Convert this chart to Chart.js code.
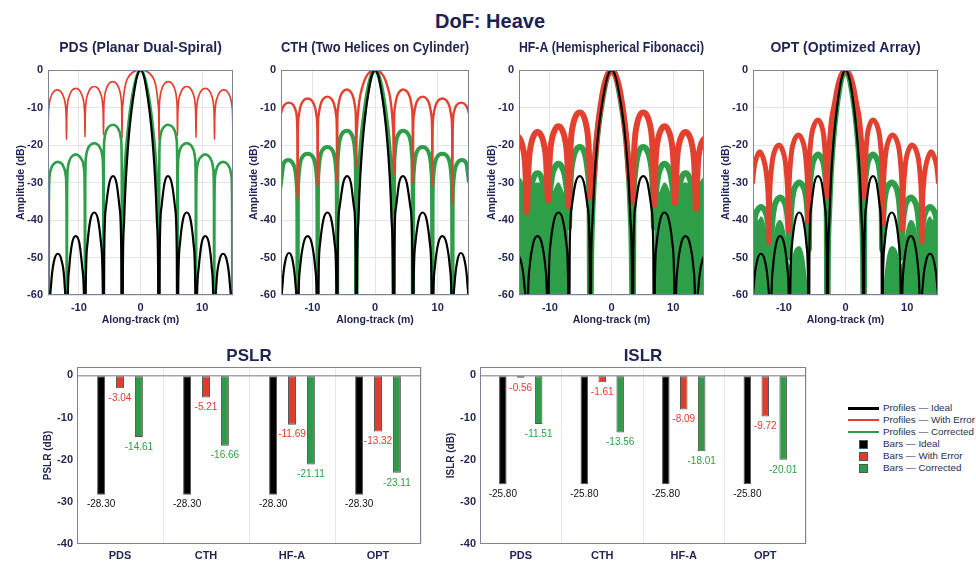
<!DOCTYPE html>
<html><head><meta charset="utf-8">
<script src="https://cdn.jsdelivr.net/npm/chart.js@4.4.1/dist/chart.umd.min.js"></script>
<style>
html,body{margin:0;padding:0;background:#fff}
body{width:976px;height:566px;overflow:hidden;position:relative;font-family:"Liberation Sans",Arial,Helvetica,sans-serif}
canvas{position:absolute}
#mainTitle{position:absolute;left:390px;top:11px;width:200px;text-align:center;font-weight:bold;font-size:20px;line-height:20px;color:#1c2150}
.row{position:absolute;left:848px;height:12px;width:140px;z-index:5}
.ln{position:absolute;left:0;width:31px}
.sq{position:absolute;left:11px;top:2px;width:7px;height:7px;border:1px solid #555}
.tx{position:absolute;left:35px;top:0;line-height:12px;font-size:9.8px;color:#2a2e55;white-space:nowrap}
</style></head>
<body>
<div id="mainTitle">DoF: Heave</div>
<canvas id="p0" width="239" height="300" style="left:0px;top:30px"></canvas>
<canvas id="p1" width="242" height="300" style="left:233px;top:30px"></canvas>
<canvas id="p2" width="239" height="300" style="left:471px;top:30px"></canvas>
<canvas id="p3" width="239" height="300" style="left:705px;top:30px"></canvas>
<canvas id="b0" width="407" height="231" style="left:20px;top:335px"></canvas>
<canvas id="b1" width="389" height="231" style="left:423px;top:335px"></canvas>
<div id="legend"></div>
<script>
// ---------- categories, ticks, labels ----------
const ARRAYS = ['PDS', 'CTH', 'HF-A', 'OPT'];
const PANEL_TITLES = ['PDS (Planar Dual-Spiral)', 'CTH (Two Helices on Cylinder)', 'HF-A (Hemispherical Fibonacci)', 'OPT (Optimized Array)'];
const X_TICKS = [-10, 0, 10];
const Y_TICKS = [-60, -50, -40, -30, -20, -10, 0];
const BAR_TICKS = [-40, -30, -20, -10, 0];
const LEGEND_LABELS = ['Profiles \u2014 Ideal', 'Profiles \u2014 With Error', 'Profiles \u2014 Corrected', 'Bars \u2014 Ideal', 'Bars \u2014 With Error', 'Bars \u2014 Corrected'];

// ---------- bar values ----------
const PSLR_IDEAL = [-28.30, -28.30, -28.30, -28.30];
const PSLR_ERROR = [-3.04, -5.21, -11.69, -13.32];
const PSLR_CORR = [-14.61, -16.66, -21.11, -23.11];
const ISLR_IDEAL = [-25.80, -25.80, -25.80, -25.80];
const ISLR_ERROR = [-0.56, -1.61, -8.09, -9.72];
const ISLR_CORR = [-11.51, -13.56, -18.01, -20.01];

// ---------- profile series [along-track m, dB] ----------
const PDS_IDEAL = [[-15.0,-70],[-14.9,-95],
[-14.78,-69],[-14.5,-57.3],[-14.0,-50.8],[-13.4,-49],[-12.8,-50.8],[-12.3,-57.3],[-12.07,-69],[-11.95,-95],
[-11.83,-64.3],[-11.55,-52.6],[-11.08,-46.1],[-10.5,-44.3],[-9.92,-46.1],[-9.45,-52.6],[-9.12,-64.3],[-9.0,-95],
[-8.88,-58],[-8.6,-46.3],[-8.1,-39.8],[-7.5,-38],[-6.9,-39.8],[-6.4,-46.3],[-6.12,-58],[-6.0,-95],
[-5.88,-48.3],[-5.6,-36.6],[-5.05,-30.1],[-4.45,-28.3],[-3.9,-30.1],[-3.4,-36.6],[-3.12,-48.3],[-3.0,-95],
[-2.85,-52],[-2.65,-40],[-2.4,-30],[-2.1,-22],[-1.8,-16],[-1.4,-10],[-1.0,-5.5],[-0.6,-2],[0,0],
[0.6,-2],[1.0,-5.5],[1.4,-10],[1.8,-16],[2.1,-22],[2.4,-30],[2.65,-40],[2.85,-52],[3.0,-95],
[3.12,-48.3],[3.4,-36.6],[3.9,-30.1],[4.45,-28.3],[5.05,-30.1],[5.6,-36.6],[5.88,-48.3],[6.0,-95],
[6.12,-58],[6.4,-46.3],[6.9,-39.8],[7.5,-38],[8.1,-39.8],[8.6,-46.3],[8.88,-58],[9.0,-95],
[9.12,-64.3],[9.45,-52.6],[9.92,-46.1],[10.5,-44.3],[11.08,-46.1],[11.55,-52.6],[11.83,-64.3],[11.95,-95],
[12.07,-69],[12.3,-57.3],[12.8,-50.8],[13.4,-49],[14.0,-50.8],[14.5,-57.3],[14.78,-69],[14.9,-95],[15.0,-70]];

const PDS_ERROR = [[-15,-20],[-14.96,-13.3],[-14.85,-9.8],[-14.55,-7.3],[-14.1,-5.8],[-13.5,-5.3],[-12.9,-5.8],[-12.45,-7.3],[-12.15,-9.8],[-12.04,-13.3],[-12.0,-18.5],
[-11.96,-12.9],[-11.85,-9.4],[-11.55,-6.9],[-11.1,-5.4],[-10.5,-4.9],[-9.9,-5.4],[-9.45,-6.9],[-9.15,-9.4],[-9.04,-12.9],[-9.0,-17.9],
[-8.96,-12.4],[-8.85,-8.9],[-8.55,-6.4],[-8.1,-4.9],[-7.5,-4.4],[-6.9,-4.9],[-6.45,-6.4],[-6.15,-8.9],[-6.04,-12.4],[-6.0,-17.3],
[-5.96,-11.1],[-5.85,-7.6],[-5.55,-5.1],[-5.1,-3.6],[-4.5,-3.1],[-3.9,-3.6],[-3.45,-5.1],[-3.15,-7.6],[-3.04,-11.1],[-3.0,-18.2],
[-2.96,-12],[-2.85,-9],[-2.7,-6.5],[-2.4,-3.6],[-2.0,-2.0],[-1.4,-0.8],[-0.7,-0.2],[0,0],[0.7,-0.2],[1.4,-0.8],[2.0,-2.0],[2.4,-3.6],[2.7,-6.5],[2.85,-9],[2.96,-12],[3.0,-18.5],
[3.04,-11.1],[3.15,-7.6],[3.45,-5.1],[3.9,-3.6],[4.5,-3.1],[5.1,-3.6],[5.55,-5.1],[5.85,-7.6],[5.96,-11.1],[6.0,-17.5],
[6.04,-12.4],[6.15,-8.9],[6.45,-6.4],[6.9,-4.9],[7.5,-4.4],[8.1,-4.9],[8.55,-6.4],[8.85,-8.9],[8.96,-12.4],[9.0,-18.0],
[9.04,-12.9],[9.15,-9.4],[9.45,-6.9],[9.9,-5.4],[10.5,-4.9],[11.1,-5.4],[11.55,-6.9],[11.85,-9.4],[11.96,-12.9],[12.0,-18.5],
[12.04,-13.3],[12.15,-9.8],[12.45,-7.3],[12.9,-5.8],[13.5,-5.3],[14.1,-5.8],[14.55,-7.3],[14.85,-9.8],[14.96,-13.3],[15.0,-21]];

const PDS_CORR = [[-15.0,-42],[-14.9,-75],
[-14.86,-36.5],[-14.76,-28.5],[-14.5,-26.3],[-14.1,-25.1],[-13.4,-24.5],[-12.7,-25.1],[-12.35,-26.3],[-12.09,-28.5],[-11.99,-36.5],[-11.95,-75],
[-11.91,-34.5],[-11.81,-26.5],[-11.55,-24.3],[-11.15,-23.1],[-10.5,-22.5],[-9.85,-23.1],[-9.4,-24.3],[-9.14,-26.5],[-9.04,-34.5],[-9.0,-75],
[-8.96,-31.5],[-8.86,-23.5],[-8.6,-21.3],[-8.2,-20.1],[-7.5,-19.5],[-6.8,-20.1],[-6.4,-21.3],[-6.14,-23.5],[-6.04,-31.5],[-6.0,-75],
[-5.96,-26.6],[-5.86,-18.6],[-5.6,-16.4],[-5.2,-15.2],[-4.4,-14.6],[-3.8,-15.2],[-3.4,-16.4],[-3.14,-18.6],[-3.04,-26.6],[-3.0,-75],
[-2.92,-48],[-2.8,-36],[-2.6,-27],[-2.3,-20],[-1.9,-13.5],[-1.5,-8.5],[-1.0,-4],[-0.5,-1],[0,0],
[0.5,-1],[1.0,-4],[1.5,-8.5],[1.9,-13.5],[2.3,-20],[2.6,-27],[2.8,-36],[2.92,-48],[3.0,-75],
[3.04,-26.6],[3.14,-18.6],[3.4,-16.4],[3.8,-15.2],[4.4,-14.6],[5.2,-15.2],[5.6,-16.4],[5.86,-18.6],[5.96,-26.6],[6.0,-75],
[6.04,-31.5],[6.14,-23.5],[6.4,-21.3],[6.8,-20.1],[7.5,-19.5],[8.2,-20.1],[8.6,-21.3],[8.86,-23.5],[8.96,-31.5],[9.0,-75],
[9.04,-34.5],[9.14,-26.5],[9.4,-24.3],[9.85,-23.1],[10.5,-22.5],[11.15,-23.1],[11.55,-24.3],[11.81,-26.5],[11.91,-34.5],[11.95,-75],
[11.99,-36.5],[12.09,-28.5],[12.35,-26.3],[12.7,-25.1],[13.4,-24.5],[14.1,-25.1],[14.5,-26.3],[14.76,-28.5],[14.86,-36.5],[14.9,-75],[15.0,-42]];

const CTH_IDEAL = [[-15.2,-75],[-15.1,-95],[-15.0,-68.8],[-14.75,-57.1],[-14.27,-50.6],[-13.72,-48.8],[-13.17,-50.6],[-12.69,-57.1],[-12.44,-68.8],[-12.35,-95],
[-12.24,-64.3],[-11.95,-52.6],[-11.39,-46.1],[-10.75,-44.3],[-10.11,-46.1],[-9.55,-52.6],[-9.26,-64.3],[-9.15,-95],
[-9.04,-58],[-8.76,-46.3],[-8.22,-39.8],[-7.6,-38],[-6.98,-39.8],[-6.44,-46.3],[-6.16,-58],[-6.05,-95],
[-5.95,-48.3],[-5.65,-36.6],[-5.07,-30.1],[-4.45,-28.3],[-3.85,-30.1],[-3.35,-36.6],[-3.08,-48.3],[-3.0,-95],
[-2.85,-52],[-2.65,-40],[-2.4,-30],[-2.1,-22],[-1.8,-16],[-1.4,-10],[-1.0,-5.5],[-0.6,-2],[0,0],
[0.6,-2],[1.0,-5.5],[1.4,-10],[1.8,-16],[2.1,-22],[2.4,-30],[2.65,-40],[2.85,-52],[3.0,-95],
[3.08,-48.3],[3.35,-36.6],[3.85,-30.1],[4.45,-28.3],[5.07,-30.1],[5.65,-36.6],[5.95,-48.3],[6.05,-95],
[6.16,-58],[6.44,-46.3],[6.98,-39.8],[7.6,-38],[8.22,-39.8],[8.76,-46.3],[9.04,-58],[9.15,-95],
[9.26,-64.3],[9.55,-52.6],[10.11,-46.1],[10.75,-44.3],[11.39,-46.1],[11.95,-52.6],[12.24,-64.3],[12.35,-95],
[12.44,-68.8],[12.69,-57.1],[13.17,-50.6],[13.72,-48.8],[14.27,-50.6],[14.75,-57.1],[15.0,-68.8],[15.1,-95],[15.2,-75]];

const CTH_ERROR = [[-15.35,-34],[-15.31,-17.7],[-15.2,-13.7],[-14.9,-10.9],[-14.45,-9.3],[-13.75,-8.7],[-13.05,-9.3],[-12.65,-10.9],[-12.44,-13.7],[-12.39,-17.7],[-12.35,-33.8],
[-12.31,-16.6],[-12.2,-12.6],[-11.9,-9.8],[-11.45,-8.2],[-10.75,-7.6],[-10.05,-8.2],[-9.6,-9.8],[-9.3,-12.6],[-9.19,-16.6],[-9.15,-30.7],
[-9.11,-16.1],[-9.0,-12.1],[-8.7,-9.3],[-8.25,-7.7],[-7.6,-7.1],[-6.95,-7.7],[-6.5,-9.3],[-6.2,-12.1],[-6.09,-16.1],[-6.05,-29.8],
[-6.01,-14.2],[-5.9,-10.2],[-5.6,-7.4],[-5.15,-5.8],[-4.45,-5.2],[-3.9,-5.8],[-3.45,-7.4],[-3.15,-10.2],[-3.04,-14.2],[-3.0,-26],
[-2.95,-19],[-2.82,-14],[-2.62,-10],[-2.32,-6.5],[-1.92,-4],[-1.42,-1.8],[-0.8,-0.5],[0,0],[0.8,-0.5],[1.42,-1.8],[1.92,-4],[2.32,-6.5],[2.62,-10],[2.82,-14],[2.95,-19],[3.0,-27.5],
[3.04,-14.2],[3.15,-10.2],[3.45,-7.4],[3.9,-5.8],[4.45,-5.2],[5.15,-5.8],[5.6,-7.4],[5.9,-10.2],[6.01,-14.2],[6.05,-30.2],
[6.09,-16.1],[6.2,-12.1],[6.5,-9.3],[6.95,-7.7],[7.6,-7.1],[8.25,-7.7],[8.7,-9.3],[9.0,-12.1],[9.11,-16.1],[9.15,-30.7],
[9.19,-16.6],[9.3,-12.6],[9.6,-9.8],[10.05,-8.2],[10.75,-7.6],[11.45,-8.2],[11.9,-9.8],[12.2,-12.6],[12.31,-16.6],[12.35,-35.6],
[12.39,-17.7],[12.44,-13.7],[12.65,-10.9],[13.05,-9.3],[13.75,-8.7],[14.45,-9.3],[14.9,-10.9],[15.2,-13.7],[15.31,-17.7],[15.35,-34]];

const CTH_CORR = [[-15.35,-75],[-15.31,-38],[-15.23,-33],[-15.0,-30],[-14.55,-24.8],[-13.85,-24],[-13.15,-24.8],[-12.7,-27],[-12.47,-31],[-12.39,-38],[-12.35,-75],
[-12.31,-36.3],[-12.23,-29.3],[-12.0,-25.3],[-11.55,-23.1],[-10.75,-22.3],[-9.95,-23.1],[-9.5,-25.3],[-9.27,-29.3],[-9.19,-36.3],[-9.15,-75],
[-9.11,-34.5],[-9.03,-27.5],[-8.8,-23.5],[-8.35,-21.3],[-7.6,-20.5],[-6.85,-21.3],[-6.4,-23.5],[-6.17,-27.5],[-6.09,-34.5],[-6.05,-75],
[-6.01,-30.2],[-5.93,-23.2],[-5.7,-19.2],[-5.25,-17],[-4.45,-16.2],[-3.8,-17],[-3.35,-19.2],[-3.12,-23.2],[-3.04,-30.2],[-3.0,-75],
[-2.93,-50],[-2.8,-37],[-2.6,-28],[-2.3,-20.5],[-1.9,-14],[-1.5,-9],[-1.0,-4.2],[-0.5,-1.1],[0,0],
[0.5,-1.1],[1.0,-4.2],[1.5,-9],[1.9,-14],[2.3,-20.5],[2.6,-28],[2.8,-37],[2.93,-50],[3.0,-75],
[3.04,-30.2],[3.12,-23.2],[3.35,-19.2],[3.8,-17],[4.45,-16.2],[5.25,-17],[5.7,-19.2],[5.93,-23.2],[6.01,-30.2],[6.05,-75],
[6.09,-34.5],[6.17,-27.5],[6.4,-23.5],[6.85,-21.3],[7.6,-20.5],[8.35,-21.3],[8.8,-23.5],[9.03,-27.5],[9.11,-34.5],[9.15,-75],
[9.19,-36.3],[9.27,-29.3],[9.5,-25.3],[9.95,-23.1],[10.75,-22.3],[11.55,-23.1],[12.0,-25.3],[12.23,-29.3],[12.31,-36.3],[12.35,-75],
[12.39,-38],[12.47,-31],[12.7,-27],[13.15,-24.8],[13.85,-24],[14.55,-24.8],[15.0,-30],[15.23,-33],[15.31,-38],[15.35,-75]];

const HFA_IDEAL = [[-15.4,-49],[-14.72,-50.8],[-14.13,-57.3],[-13.82,-69],[-13.7,-95],
[-13.58,-64.3],[-13.28,-52.6],[-12.68,-46.1],[-12.0,-44.3],[-11.32,-46.1],[-10.72,-52.6],[-10.42,-64.3],[-10.3,-95],
[-10.18,-58],[-9.88,-46.3],[-9.28,-39.8],[-8.6,-38],[-7.92,-39.8],[-7.32,-46.3],[-7.02,-58],[-6.9,-95],
[-6.78,-48.3],[-6.46,-36.6],[-5.84,-30.1],[-5.15,-28.3],[-4.46,-30.1],[-3.86,-36.6],[-3.55,-48.3],[-3.45,-95],
[-3.3,-52],[-3.08,-40],[-2.8,-30],[-2.45,-22],[-2.1,-16],[-1.62,-10],[-1.15,-5.5],[-0.7,-2],[0,0],
[0.7,-2],[1.15,-5.5],[1.62,-10],[2.1,-16],[2.45,-22],[2.8,-30],[3.08,-40],[3.3,-52],[3.45,-95],
[3.55,-48.3],[3.86,-36.6],[4.46,-30.1],[5.15,-28.3],[5.84,-30.1],[6.46,-36.6],[6.78,-48.3],[6.9,-95],
[7.02,-58],[7.32,-46.3],[7.92,-39.8],[8.6,-38],[9.28,-39.8],[9.88,-46.3],[10.18,-58],[10.3,-95],
[10.42,-64.3],[10.72,-52.6],[11.32,-46.1],[12.0,-44.3],[12.68,-46.1],[13.28,-52.6],[13.58,-64.3],[13.7,-95],
[13.82,-69],[14.13,-57.3],[14.72,-50.8],[15.4,-49]];

const HFA_ERROR = [[-15.4,-17.5],[-14.9,-18.2],[-14.4,-20.5],[-14.0,-25.5],[-13.8,-33.5],[-13.7,-37.8],
[-13.6,-32.5],[-13.4,-24.5],[-13.0,-19.5],[-12.5,-17.2],[-12.0,-16.5],[-11.5,-17.2],[-11.0,-19.5],[-10.6,-24.5],[-10.4,-32.5],[-10.3,-35],
[-10.2,-31],[-10.0,-23],[-9.6,-18],[-9.1,-15.7],[-8.6,-15],[-8.1,-15.7],[-7.6,-18],[-7.2,-23],[-7.0,-31],[-6.9,-36.4],
[-6.8,-27.3],[-6.6,-19.3],[-6.2,-14.3],[-5.7,-12],[-5.15,-11.3],[-4.6,-12],[-4.15,-14.3],[-3.75,-19.3],[-3.55,-27.3],[-3.45,-34],
[-3.35,-33],[-3.1,-31],[-2.85,-28],[-2.55,-21],[-2.2,-15],[-1.8,-10],[-1.3,-5],[-0.8,-2],[0,0],
[0.8,-2],[1.3,-5],[1.8,-10],[2.2,-15],[2.55,-21],[2.85,-28],[3.1,-31],[3.35,-33],[3.45,-35],
[3.55,-27.3],[3.75,-19.3],[4.15,-14.3],[4.6,-12],[5.15,-11.3],[5.7,-12],[6.2,-14.3],[6.6,-19.3],[6.8,-27.3],[6.9,-36],
[7.0,-31],[7.2,-23],[7.6,-18],[8.1,-15.7],[8.6,-15],[9.1,-15.7],[9.6,-18],[10.0,-23],[10.2,-31],[10.3,-35.5],
[10.4,-32.5],[10.6,-24.5],[11.0,-19.5],[11.5,-17.2],[12.0,-16.5],[12.5,-17.2],[13.0,-19.5],[13.4,-24.5],[13.6,-32.5],[13.7,-37],
[13.8,-33.5],[14.0,-25.5],[14.4,-20.5],[14.9,-18.6],[15.4,-17.8]];

const HFA_CORR = [[-15.4,-29],[-14.9,-29.8],[-14.4,-32],[-14.0,-36],[-13.7,-42],
[-13.4,-35],[-13.0,-31],[-12.5,-28.2],[-12.0,-27.5],[-11.5,-28.2],[-11.0,-31],[-10.6,-35],[-10.3,-40],
[-10.0,-33],[-9.6,-28],[-9.1,-25.7],[-8.6,-25],[-8.1,-25.7],[-7.6,-28],[-7.2,-33],[-6.9,-42],
[-6.8,-36.5],[-6.6,-28.5],[-6.2,-23.5],[-5.7,-21.2],[-5.15,-20.5],[-4.6,-21.2],[-4.15,-23.5],[-3.75,-28.5],[-3.55,-36.5],[-3.45,-75],
[-3.3,-50],[-3.1,-38],[-2.8,-28],[-2.45,-20],[-2.05,-14],[-1.6,-9],[-1.15,-4.8],[-0.7,-1.7],[0,0],
[0.7,-1.7],[1.15,-4.8],[1.6,-9],[2.05,-14],[2.45,-20],[2.8,-28],[3.1,-38],[3.3,-50],[3.45,-75],
[3.55,-36.5],[3.75,-28.5],[4.15,-23.5],[4.6,-21.2],[5.15,-20.5],[5.7,-21.2],[6.2,-23.5],[6.6,-28.5],[6.8,-36.5],[6.9,-42],
[7.2,-33],[7.6,-28],[8.1,-25.7],[8.6,-25],[9.1,-25.7],[9.6,-28],[10.0,-33],[10.3,-40],
[10.6,-35],[11.0,-31],[11.5,-28.2],[12.0,-27.5],[12.5,-28.2],[13.0,-31],[13.4,-35],[13.7,-42],
[14.0,-36],[14.4,-32],[14.9,-29.8],[15.4,-29]];

const HFA_NOISE = [[-15.0,-30],[-14.4,-33],[-13.7,-38],[-13.0,-32],[-12.0,-30],[-11.0,-32],[-10.3,-38],[-9.6,-33],[-8.6,-30],[-7.6,-33],[-7.0,-40],[-6.9,-60],
[6.9,-60],[7.0,-40],[7.6,-33],[8.6,-30],[9.6,-33],[10.3,-38],[11.0,-32],[12.0,-30],[13.0,-32],[13.7,-38],[14.4,-33],[15.0,-30]];

const OPT_IDEAL = [[-15.4,-75],[-15.25,-95],[-15.14,-69],[-14.86,-57.3],[-14.32,-50.8],[-13.7,-49],[-13.08,-50.8],[-12.54,-57.3],[-12.26,-69],[-12.15,-95],
[-12.04,-64.3],[-11.76,-52.6],[-11.22,-46.1],[-10.6,-44.3],[-9.98,-46.1],[-9.44,-52.6],[-9.16,-64.3],[-9.05,-95],
[-8.94,-58],[-8.66,-46.3],[-8.12,-39.8],[-7.5,-38],[-6.88,-39.8],[-6.34,-46.3],[-6.06,-58],[-5.95,-95],
[-5.85,-48.3],[-5.57,-36.6],[-5.05,-30.1],[-4.45,-28.3],[-3.85,-30.1],[-3.33,-36.6],[-3.05,-48.3],[-2.95,-95],
[-2.82,-52],[-2.62,-40],[-2.38,-30],[-2.08,-22],[-1.78,-16],[-1.38,-10],[-1.0,-5.5],[-0.6,-2],[0,0],
[0.6,-2],[1.0,-5.5],[1.38,-10],[1.78,-16],[2.08,-22],[2.38,-30],[2.62,-40],[2.82,-52],[2.95,-95],
[3.05,-48.3],[3.33,-36.6],[3.85,-30.1],[4.45,-28.3],[5.05,-30.1],[5.57,-36.6],[5.85,-48.3],[5.95,-95],
[6.06,-58],[6.34,-46.3],[6.88,-39.8],[7.5,-38],[8.12,-39.8],[8.66,-46.3],[8.94,-58],[9.05,-95],
[9.16,-64.3],[9.44,-52.6],[9.98,-46.1],[10.6,-44.3],[11.22,-46.1],[11.76,-52.6],[12.04,-64.3],[12.15,-95],
[12.26,-69],[12.54,-57.3],[13.08,-50.8],[13.7,-49],[14.32,-50.8],[14.86,-57.3],[15.14,-69],[15.25,-95],[15.4,-75]];

const OPT_ERROR = [[-15.35,-47],[-15.25,-35.8],[-15.08,-30.3],[-14.8,-25.8],[-14.35,-23],[-13.9,-21.8],[-13.45,-23],[-13.0,-25.8],[-12.67,-30.3],[-12.5,-35.8],[-12.4,-46],
[-12.3,-34],[-12.13,-28.5],[-11.85,-24],[-11.4,-21.2],[-10.75,-20],[-10.25,-21.2],[-9.8,-24],[-9.52,-28.5],[-9.35,-34],[-9.25,-43],
[-9.15,-31.3],[-8.98,-25.8],[-8.7,-21.3],[-8.25,-18.5],[-7.6,-17.3],[-7.05,-18.5],[-6.6,-21.3],[-6.32,-25.8],[-6.15,-31.3],[-6.05,-40.5],
[-5.95,-27.3],[-5.78,-21.8],[-5.5,-17.3],[-5.05,-14.5],[-4.45,-13.3],[-3.95,-14.5],[-3.55,-17.3],[-3.32,-21.8],[-3.15,-27.3],[-3.05,-34],
[-3.0,-30],[-2.85,-25],[-2.6,-19],[-2.25,-13],[-1.8,-9],[-1.3,-4.5],[-0.7,-1.3],[0,0],
[0.7,-1.3],[1.3,-4.5],[1.8,-9],[2.25,-13],[2.6,-19],[2.85,-25],[3.0,-30],[3.05,-34],
[3.15,-27.3],[3.32,-21.8],[3.55,-17.3],[3.95,-14.5],[4.45,-13.3],[5.05,-14.5],[5.5,-17.3],[5.78,-21.8],[5.95,-27.3],[6.05,-41],
[6.15,-31.3],[6.32,-25.8],[6.6,-21.3],[7.05,-18.5],[7.6,-17.3],[8.25,-18.5],[8.7,-21.3],[8.98,-25.8],[9.15,-31.3],[9.25,-42.7],
[9.35,-34],[9.52,-28.5],[9.8,-24],[10.25,-21.2],[10.75,-20],[11.4,-21.2],[11.85,-24],[12.13,-28.5],[12.3,-34],[12.4,-45.8],
[12.5,-35.8],[12.67,-30.3],[13.0,-25.8],[13.45,-23],[13.9,-21.8],[14.35,-23],[14.8,-25.8],[15.08,-30.3],[15.25,-35.8],[15.35,-47]];

const OPT_CORR = [[-15.35,-45],[-15.25,-52],[-15.15,-48.5],[-14.95,-42.5],[-14.65,-39],[-14.25,-37.3],[-13.7,-36.5],[-13.15,-37.3],[-12.75,-39],[-12.45,-42.5],[-12.25,-48.5],[-12.15,-52],
[-12.05,-46],[-11.85,-40],[-11.55,-36.5],[-11.15,-34.8],[-10.6,-34],[-10.05,-34.8],[-9.65,-36.5],[-9.35,-40],[-9.15,-46],[-9.05,-50],
[-8.95,-42],[-8.75,-36],[-8.45,-32.5],[-8.05,-30.8],[-7.5,-30],[-6.95,-30.8],[-6.55,-32.5],[-6.25,-36],[-6.05,-42],[-5.95,-48],
[-5.85,-34.5],[-5.65,-28.5],[-5.35,-25],[-4.95,-23.3],[-4.45,-22.5],[-3.95,-23.3],[-3.55,-25],[-3.25,-28.5],[-3.05,-36],[-2.95,-75],
[-2.85,-50],[-2.65,-38],[-2.42,-29],[-2.12,-21],[-1.8,-15],[-1.42,-9.5],[-1.0,-5],[-0.6,-1.8],[0,0],
[0.6,-1.8],[1.0,-5],[1.42,-9.5],[1.8,-15],[2.12,-21],[2.42,-29],[2.65,-38],[2.85,-50],[2.95,-75],
[3.05,-36],[3.25,-28.5],[3.55,-25],[3.95,-23.3],[4.45,-22.5],[4.95,-23.3],[5.35,-25],[5.65,-28.5],[5.85,-34.5],[5.95,-48],
[6.05,-42],[6.25,-36],[6.55,-32.5],[6.95,-30.8],[7.5,-30],[8.05,-30.8],[8.45,-32.5],[8.75,-36],[8.95,-42],[9.05,-50],
[9.15,-46],[9.35,-40],[9.65,-36.5],[10.05,-34.8],[10.6,-34],[11.15,-34.8],[11.55,-36.5],[11.85,-40],[12.05,-46],[12.15,-52],
[12.25,-48.5],[12.45,-42.5],[12.75,-39],[13.15,-37.3],[13.7,-36.5],[14.25,-37.3],[14.65,-39],[14.95,-42.5],[15.15,-48.5],[15.25,-52],[15.35,-45]];

const OPT_NOISE = [[-15.0,-38],[-14.2,-40],[-13.7,-39],[-12.9,-42],[-12.15,-50],[-11.4,-42],[-10.6,-40],[-9.8,-43],[-9.05,-52],[-8.3,-48],[-7.5,-47],[-6.7,-50],[-6.0,-60],
[6.0,-60],[6.7,-50],[7.5,-47],[8.3,-48],[9.05,-52],[9.8,-43],[10.6,-40],[11.4,-42],[12.15,-50],[12.9,-42],[13.7,-39],[14.2,-40],[15.0,-38]];

// ---------- styling ----------
const FF = '"Liberation Sans", Arial, Helvetica, sans-serif';
const NAVY = '#1f2452';
const AXIS = '#7d8199';
const GRID = '#e3e4e8';
const C_IDEAL = '#000000', C_ERR = '#e3412f', C_CORR = '#2f9e48';
const L_IDEAL = '#111111', L_ERR = '#e5392a', L_CORR = '#2ea043';

const pts = a => a.map(p => ({x: p[0], y: p[1]}));

const boxPlugin = {
  id: 'box',
  afterDatasetsDraw(chart) {
    const {left, top, right, bottom} = chart.chartArea;
    const c = chart.ctx;
    c.save();
    c.strokeStyle = AXIS; c.lineWidth = 1;
    c.strokeRect(Math.round(left) + 0.5, Math.round(top) + 0.5, Math.round(right - left) - 1, Math.round(bottom - top) - 1);
    c.restore();
  }
};

const barLabels = {
  id: 'barLabels',
  afterDatasetsDraw(chart) {
    const c = chart.ctx;
    c.save();
    c.font = '10px ' + FF; c.textAlign = 'center'; c.textBaseline = 'middle';
    chart.data.datasets.forEach((ds, i) => {
      const meta = chart.getDatasetMeta(i);
      c.fillStyle = ds.labelColor;
      meta.data.forEach((el, j) => c.fillText(ds.data[j].toFixed(2), el.x, el.y + 10));
    });
    c.restore();
  }
};

function lineChart(id, title, ideal, err, corr, noise, wErr, wCorr) {
  const ds = [
    {data: pts(ideal), borderColor: C_IDEAL, borderWidth: 2.2},
    {data: pts(err), borderColor: C_ERR, borderWidth: wErr},
    {data: pts(corr), borderColor: C_CORR, borderWidth: wCorr}
  ];
  if (noise) {
    ds.push({data: pts(noise.filter(p => p[0] < 0)), borderWidth: 0, borderColor: 'rgba(0,0,0,0)', backgroundColor: C_CORR, fill: 'start'});
    ds.push({data: pts(noise.filter(p => p[0] > 0)), borderWidth: 0, borderColor: 'rgba(0,0,0,0)', backgroundColor: C_CORR, fill: 'start'});
  }
  new Chart(document.getElementById(id), {
    type: 'line',
    data: {datasets: ds},
    options: {
      responsive: false, animation: false, events: [], devicePixelRatio: 1,
      layout: {padding: {left: 0, right: 6, top: 0, bottom: 0}},
      elements: {point: {radius: 0}, line: {cubicInterpolationMode: 'monotone', borderJoinStyle: 'round'}},
      plugins: {
        legend: {display: false}, tooltip: {enabled: false},
        title: {display: true, fullSize: false, text: title, color: NAVY,
          font: {family: FF, size: 14, weight: 'bold'}, padding: {top: 9.6, bottom: 13.6}}
      },
      scales: {
        x: {type: 'linear', min: -15, max: 15,
          afterBuildTicks: s => { s.ticks = X_TICKS.map(v => ({value: v})); },
          afterFit: s => { s.height = 35; },
          grid: {color: GRID, drawTicks: false}, border: {display: false},
          ticks: {color: NAVY, font: {family: FF, size: 11, weight: 'bold'}, padding: 6, maxRotation: 0, autoSkip: false},
          title: {display: true, text: 'Along-track (m)', color: NAVY, font: {family: FF, size: 10.5, weight: 'bold'}, padding: {top: 0, bottom: 3.4}}
        },
        y: {type: 'linear', min: -60, max: 0,
          afterBuildTicks: s => { s.ticks = Y_TICKS.map(v => ({value: v})); },
          afterFit: s => { s.width = 48; },
          grid: {color: GRID, drawTicks: false}, border: {display: false},
          ticks: {color: NAVY, font: {family: FF, size: 11, weight: 'bold'}, padding: 5, autoSkip: false},
          title: {display: true, text: 'Amplitude (dB)', color: NAVY, font: {family: FF, size: 10.5, weight: 'bold'}, padding: {top: 14.4, bottom: 0}}
        }
      }
    },
    plugins: [boxPlugin]
  });
}

function barChart(id, title, ylabel, ideal, err, corr) {
  const common = {borderColor: '#555555', borderWidth: 1, borderSkipped: false, categoryPercentage: 0.66, barPercentage: 0.42};
  new Chart(document.getElementById(id), {
    type: 'bar',
    data: {
      labels: ARRAYS,
      datasets: [
        Object.assign({data: ideal, backgroundColor: C_IDEAL, labelColor: L_IDEAL}, common),
        Object.assign({data: err, backgroundColor: '#e03c2e', labelColor: L_ERR}, common),
        Object.assign({data: corr, backgroundColor: '#2f9a47', labelColor: L_CORR}, common)
      ]
    },
    options: {
      responsive: false, animation: false, events: [], devicePixelRatio: 1,
      layout: {padding: {left: 0, right: 6, top: 0, bottom: 0}},
      plugins: {
        legend: {display: false}, tooltip: {enabled: false},
        title: {display: true, fullSize: false, text: title, color: NAVY,
          font: {family: FF, size: 17, weight: 'bold'}, padding: {top: 11.6, bottom: 0}}
      },
      scales: {
        x: {
          afterFit: s => { s.height = 22; },
          grid: {color: '#e6e7ec', drawTicks: false, offset: true}, border: {display: false},
          ticks: {color: NAVY, font: {family: FF, size: 11, weight: 'bold'}, padding: 5.4}
        },
        y: {min: -40, max: 2,
          afterBuildTicks: s => { s.ticks = BAR_TICKS.map(v => ({value: v})); },
          afterFit: s => { s.width = 57; },
          grid: {drawTicks: false,
            color: c => (c.tick && c.tick.value === 0) ? '#a3a3a8' : 'rgba(0,0,0,0)',
            lineWidth: c => (c.tick && c.tick.value === 0) ? 1.5 : 0},
          border: {display: false},
          ticks: {color: NAVY, font: {family: FF, size: 11, weight: 'bold'}, padding: 4, autoSkip: false},
          title: {display: true, text: ylabel, color: NAVY, font: {family: FF, size: 10, weight: 'bold'}, padding: {top: 22, bottom: 0}}
        }
      }
    },
    plugins: [boxPlugin, barLabels]
  });
}

lineChart('p0', PANEL_TITLES[0], PDS_IDEAL, PDS_ERROR, PDS_CORR, null, 1.7, 2.6);
lineChart('p1', PANEL_TITLES[1], CTH_IDEAL, CTH_ERROR, CTH_CORR, null, 2.4, 4);
lineChart('p2', PANEL_TITLES[2], HFA_IDEAL, HFA_ERROR, HFA_CORR, HFA_NOISE, 6, 6);
lineChart('p3', PANEL_TITLES[3], OPT_IDEAL, OPT_ERROR, OPT_CORR, OPT_NOISE, 5, 6);
barChart('b0', 'PSLR', 'PSLR (dB)', PSLR_IDEAL, PSLR_ERROR, PSLR_CORR);
barChart('b1', 'ISLR', 'ISLR (dB)', ISLR_IDEAL, ISLR_ERROR, ISLR_CORR);

// ---------- legend ----------
const LEGEND_STYLE = [
  {kind: 'line', color: C_IDEAL, h: 3}, {kind: 'line', color: C_ERR, h: 2}, {kind: 'line', color: C_CORR, h: 2},
  {kind: 'box', color: C_IDEAL}, {kind: 'box', color: '#e03c2e'}, {kind: 'box', color: '#2f9a47'}
];
const ROW_TOPS = [402, 414, 426, 438, 450, 462];
const lg = document.getElementById('legend');
LEGEND_LABELS.forEach((t, i) => {
  const r = document.createElement('div');
  r.className = 'row'; r.style.top = ROW_TOPS[i] + 'px';
  const st = LEGEND_STYLE[i];
  const sw = document.createElement('div');
  if (st.kind === 'line') {
    sw.className = 'ln'; sw.style.height = st.h + 'px'; sw.style.top = (6 - st.h / 2) + 'px'; sw.style.background = st.color;
  } else {
    sw.className = 'sq'; sw.style.background = st.color;
  }
  const tx = document.createElement('div');
  tx.className = 'tx'; tx.textContent = t;
  r.appendChild(sw); r.appendChild(tx);
  lg.appendChild(r);
});
</script>
</body></html>
